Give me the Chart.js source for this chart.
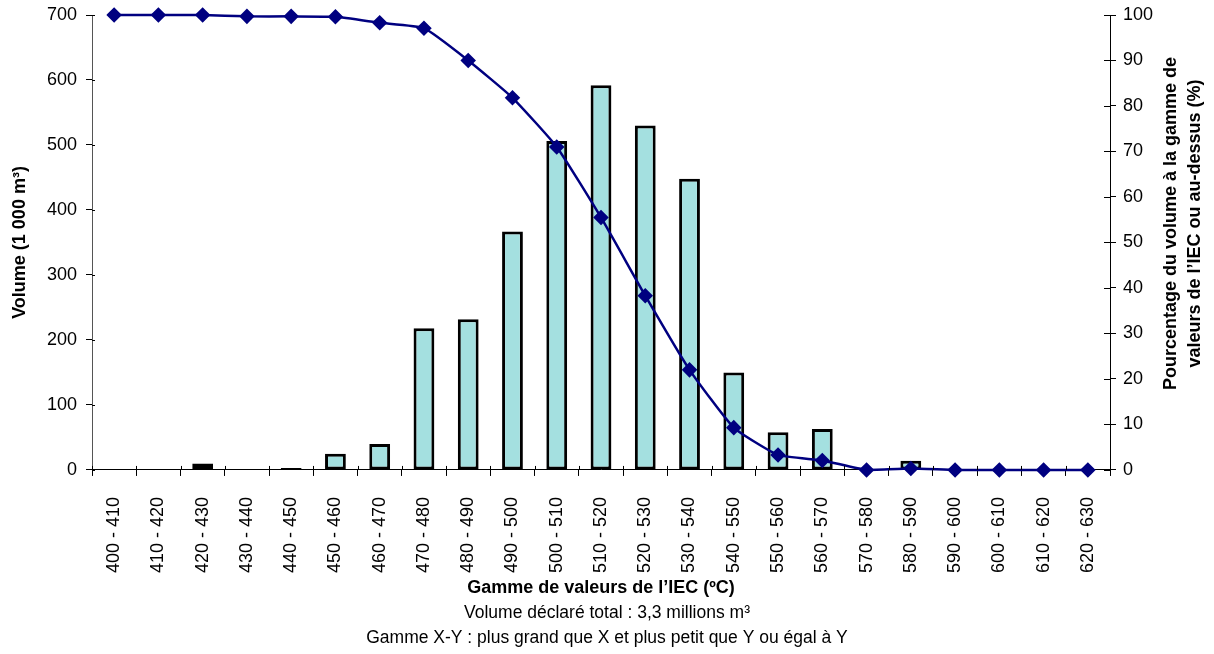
<!DOCTYPE html>
<html>
<head>
<meta charset="utf-8">
<script src="https://cdn.jsdelivr.net/npm/chart.js@4"></script>
<style>
  html, body { margin: 0; padding: 0; background: #fff; }
  #wrap { width: 1214px; height: 654px; }
</style>
</head>
<body>
<div id="wrap"><canvas id="iecChart"></canvas></div>
<script>
const ranges = ['400 - 410', '410 - 420', '420 - 430', '430 - 440', '440 - 450', '450 - 460',
    '460 - 470', '470 - 480', '480 - 490', '490 - 500', '500 - 510', '510 - 520',
    '520 - 530', '530 - 540', '540 - 550', '550 - 560', '560 - 570', '570 - 580',
    '580 - 590', '590 - 600', '600 - 610', '610 - 620', '620 - 630'];

// volume in 1 000 m3
const volumes = [0, 0, 10, 0, 3, 25, 40, 218, 232, 367, 506, 592,
    530, 448, 150, 58, 63, 0, 14, 0, 0, 0, 0];

// % of volume at or above the range
const pctAbove = [100, 100, 100, 99.7, 99.7, 99.6, 98.3, 97.1, 90.0, 81.8, 71.0, 55.5,
    38.3, 22.0, 9.3, 3.3, 2.1, 0, 0.3, 0, 0, 0, 0];

const pctTitle = ['Pourcentage du volume à la gamme de', 'valeurs de l’IEC ou au-dessus (%)'];
const footNotes = ['Volume déclaré total : 3,3 millions m³',
    'Gamme X-Y : plus grand que X et plus petit que Y ou égal à Y'];

const FONT = "'Liberation Sans', Arial, sans-serif";
Chart.defaults.font.family = FONT;
Chart.defaults.color = '#000';

// small inner half of the tick marks + right axis title (reads bottom to top)
const axisExtras = {
    id: 'axisExtras',
    afterDraw(chart) {
        const c = chart.ctx;
        const { x, yVol, yPct } = chart.scales;
        c.save();
        c.strokeStyle = '#000';
        c.lineWidth = 1;
        c.beginPath();
        yPct.ticks.forEach((t, i) => {
            const py = Math.round(yPct.getPixelForTick(i)) + 0.5;
            c.moveTo(yPct.left - 6, py);
            c.lineTo(yPct.left, py);
        });
        yVol.ticks.forEach((t, i) => {
            const py = Math.round(yVol.getPixelForTick(i)) + 0.5;
            c.moveTo(yVol.right, py);
            c.lineTo(yVol.right + 3, py);
        });
        for (let i = 0; i <= x.ticks.length; i++) {
            const px = Math.round(x.getPixelForValue(i - 0.5)) + 0.5;
            c.moveTo(px, x.top);
            c.lineTo(px, x.top - 4);
        }
        c.stroke();

        c.fillStyle = '#000';
        c.font = 'bold 18px ' + FONT;
        c.textAlign = 'center';
        c.textBaseline = 'middle';
        const cy = (chart.chartArea.top + chart.chartArea.bottom) / 2 - 19;
        [yPct.right - 43, yPct.right - 19].forEach((px, i) => {
            c.save();
            c.translate(px, cy);
            c.rotate(-Math.PI / 2);
            c.fillText(pctTitle[i], 0, 0);
            c.restore();
        });
        c.restore();
    }
};

// keep the plot box where the reference has it
const fixY = w => s => { s.width = w; s.paddingTop = 0; s.paddingBottom = 0; };

const ctx = document.getElementById('iecChart');
window.iecChart = new Chart(ctx, {
    type: 'bar',
    data: {
        labels: ranges,
        datasets: [
            {
                type: 'line',
                label: 'Pourcentage',
                data: pctAbove,
                yAxisID: 'yPct',
                borderColor: '#000080',
                backgroundColor: '#000080',
                borderWidth: 2.5,
                pointStyle: 'rectRot',
                pointRadius: 6,
                pointHoverRadius: 6,
                tension: 0.15,
                clip: false,
                order: 0
            },
            {
                label: 'Volume',
                data: volumes,
                yAxisID: 'yVol',
                backgroundColor: '#a4e0e0',
                borderColor: '#000',
                borderWidth: 3,
                borderSkipped: false,
                barPercentage: 0.47,
                categoryPercentage: 1.0,
                order: 1
            }
        ]
    },
    options: {
        responsive: true,
        maintainAspectRatio: false,
        animation: false,
        layout: { padding: { top: 15, left: 0, right: 0, bottom: 3 } },
        plugins: {
            legend: { display: false },
            tooltip: { enabled: false },
            title: {
                display: true,
                position: 'bottom',
                text: footNotes,
                font: { size: 17.5, weight: 'normal', lineHeight: 1.43 },
                padding: { top: 0, bottom: 0 }
            }
        },
        scales: {
            x: {
                offset: true,
                grid: { drawOnChartArea: false, offset: true, tickLength: 6, color: '#000' },
                border: { color: '#000', width: 1 },
                ticks: { minRotation: 90, maxRotation: 90, font: { size: 18 }, padding: 21 },
                title: {
                    display: true,
                    text: 'Gamme de valeurs de l’IEC (ºC)',
                    font: { size: 18, weight: 'bold' },
                    padding: { top: 0, bottom: 2 }
                },
                afterFit: s => { s.height = 131; }
            },
            yVol: {
                position: 'left',
                min: 0,
                max: 700,
                ticks: { stepSize: 100, font: { size: 18 }, padding: 9 },
                grid: { drawOnChartArea: false, tickLength: 6, color: '#000' },
                border: { color: '#555', width: 1 },
                title: {
                    display: true,
                    text: 'Volume (1 000 m³)',
                    font: { size: 18, weight: 'bold' },
                    padding: { top: 9, bottom: 0 }
                },
                afterFit: fixY(92)
            },
            yPct: {
                position: 'right',
                min: 0,
                max: 100,
                ticks: { stepSize: 10, font: { size: 18 }, padding: 7 },
                grid: { drawOnChartArea: false, tickLength: 6, color: '#000' },
                border: { color: '#000', width: 1 },
                afterFit: fixY(104)
            }
        }
    },
    plugins: [axisExtras]
});
</script>
</body>
</html>
